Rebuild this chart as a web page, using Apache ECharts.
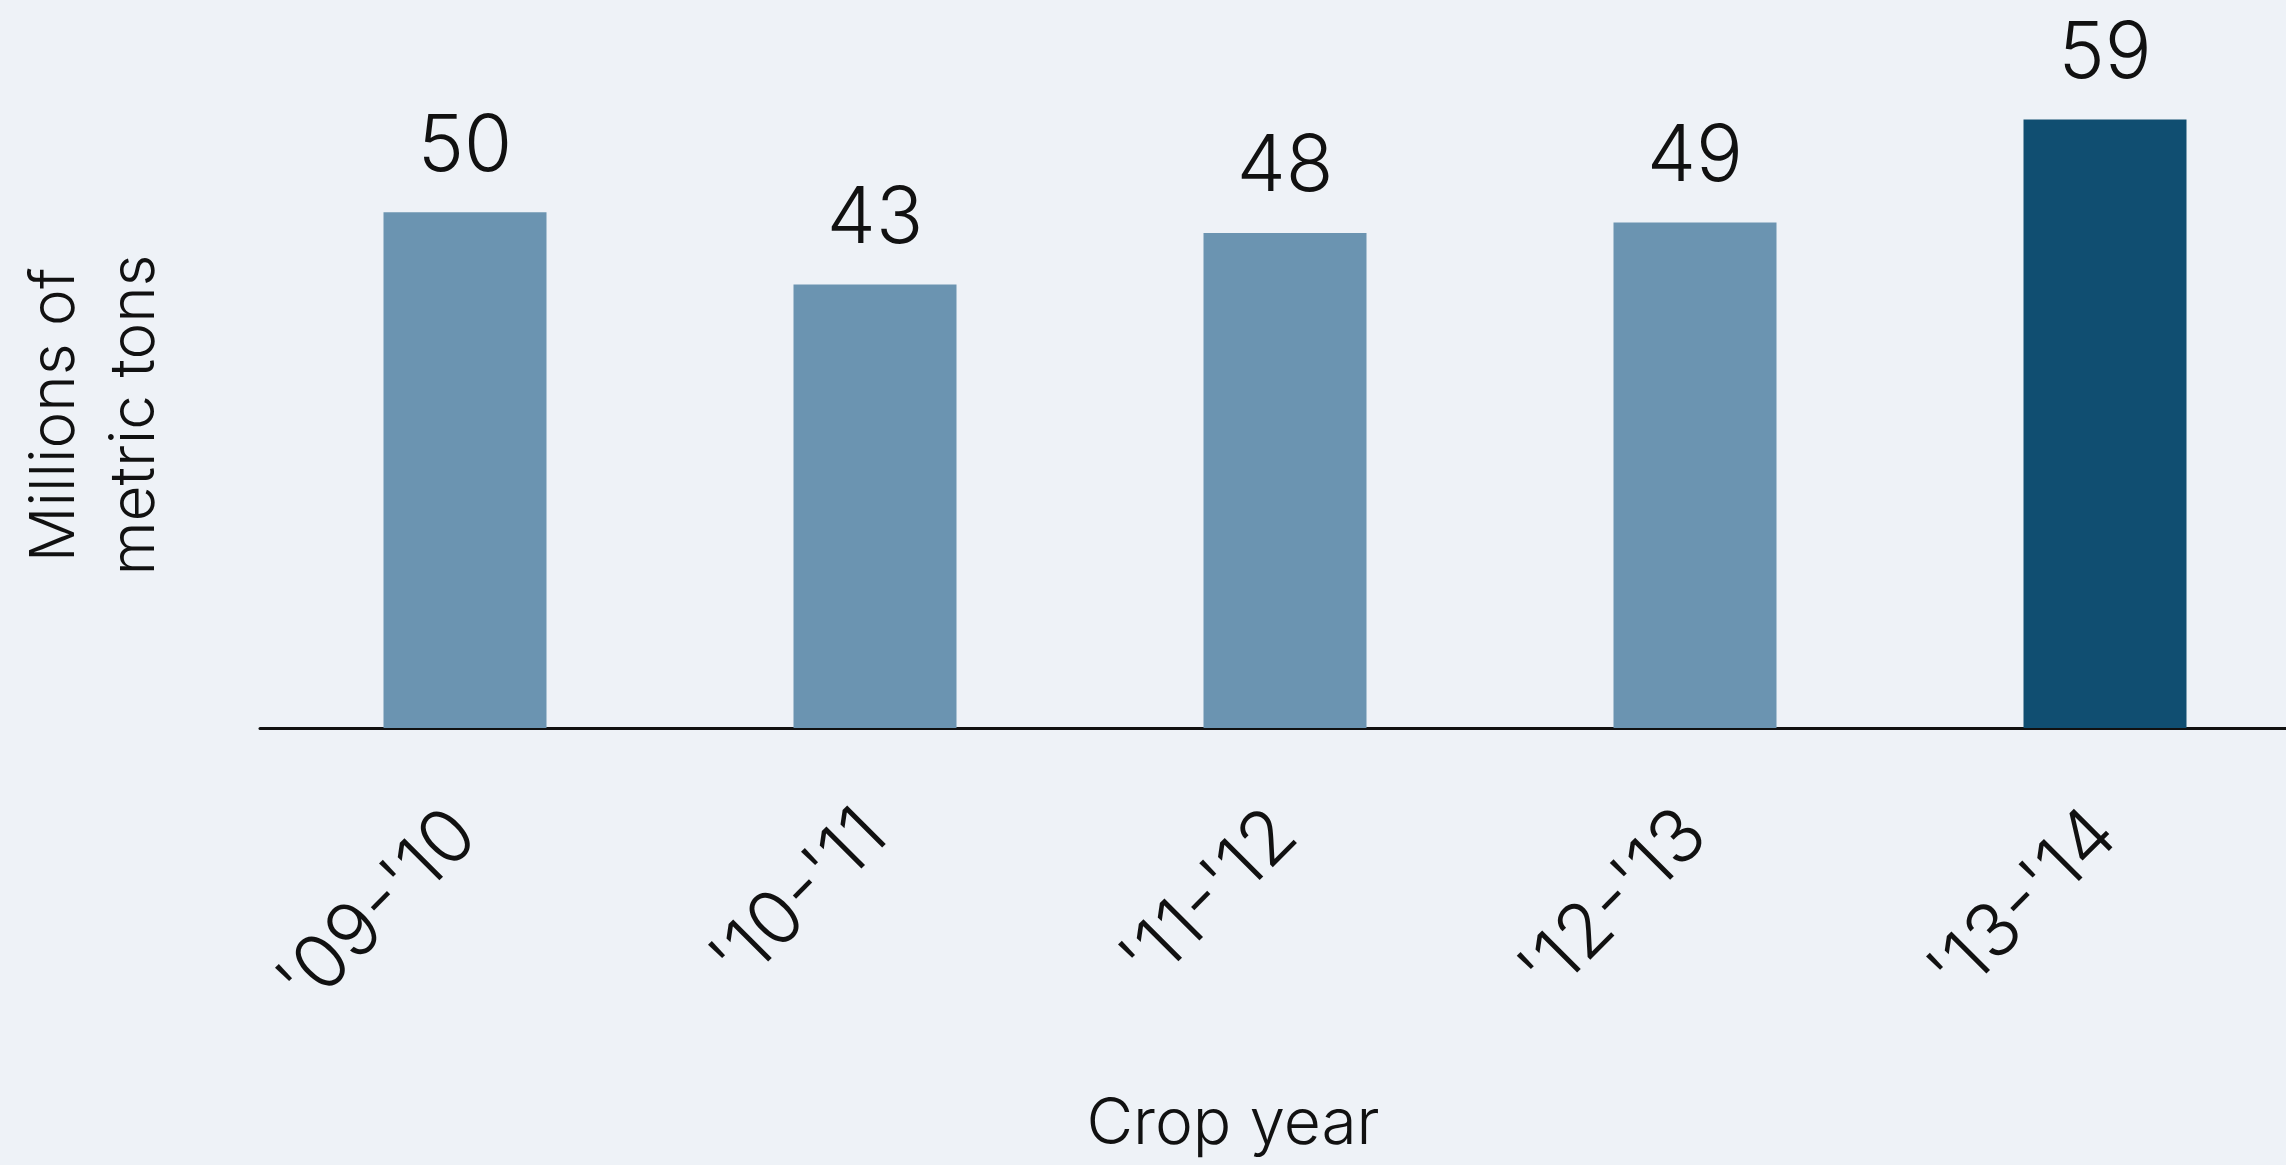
<!DOCTYPE html>
<html>
<head>
<meta charset="utf-8">
<script src="https://cdn.jsdelivr.net/npm/echarts@6/dist/echarts.min.js"></script>
<style>
html,body{margin:0;padding:0;background:#eef2f7;}
#chart{width:2286px;height:1165px;}
</style>
</head>
<body>
<div id="chart"></div>
<script>
const categories = ["'09-'10", "'10-'11", "'11-'12", "'12-'13", "'13-'14"];
const values = [50, 43, 48, 49, 59];
const barColors = ['#6b94b1', '#6b94b1', '#6b94b1', '#6b94b1', '#104e71'];
const yAxisTitle = 'Millions of\nmetric tons';
const xAxisTitle = 'Crop year';

const FONT = 'Inter';
const chart = echarts.init(document.getElementById('chart'));
chart.setOption({
  backgroundColor: '#eef2f7',
  animation: false,
  grid: { left: 260, right: -24, top: 6, bottom: 437, outerBoundsMode: 'none', containLabel: false },
  xAxis: {
    type: 'category',
    data: categories,
    axisLine: { show: true, lineStyle: { color: '#111', width: 3 } },
    axisTick: { show: false },
    axisLabel: {
      rotate: 45, margin: 95, color: '#111',
      fontFamily: FONT, fontWeight: 300, fontSize: 75
    }
  },
  yAxis: {
    type: 'value', min: 0, max: 70,
    show: true,
    axisLine: { show: false }, axisTick: { show: false },
    axisLabel: { show: false }, splitLine: { show: false }
  },
  series: [{
    type: 'bar',
    barWidth: 163,
    data: values.map((v, i) => ({ value: v, itemStyle: { color: barColors[i] } })),
    label: {
      show: true, position: 'top', distance: 26, color: '#111',
      fontFamily: FONT, fontWeight: 300, fontSize: 78
    }
  }],
  graphic: [
    {
      type: 'text', x: 95, y: 415, rotation: Math.PI / 2,
      style: {
        text: yAxisTitle, fill: '#111', fontFamily: FONT, fontWeight: 300,
        fontSize: 62, lineHeight: 80, textAlign: 'center', textVerticalAlign: 'middle'
      }
    },
    {
      type: 'text', x: 1233, y: 1125,
      style: {
        text: xAxisTitle, fill: '#111', fontFamily: FONT, fontWeight: 300,
        fontSize: 64, textAlign: 'center', textVerticalAlign: 'middle'
      }
    }
  ]
});
</script>
</body>
</html>
